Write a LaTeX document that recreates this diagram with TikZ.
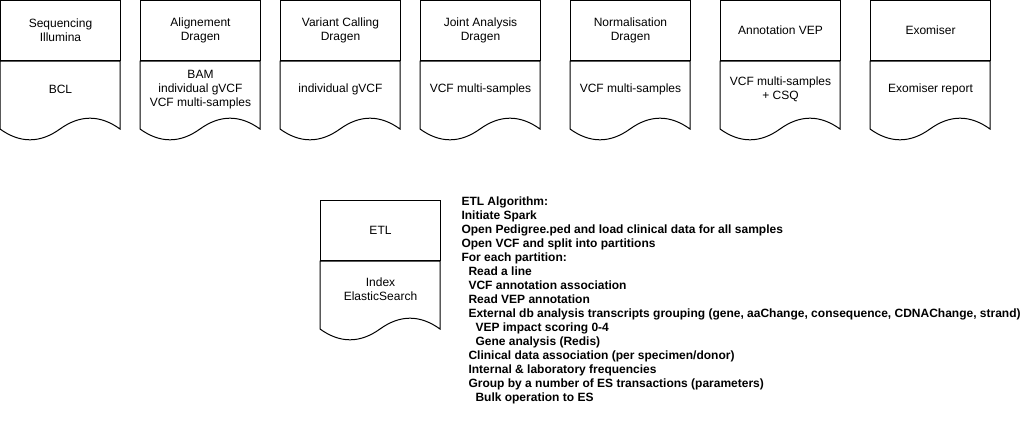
\documentclass[tikz,border=0pt]{standalone}
\usepackage{fontspec}
\setmainfont{Liberation Sans}
\usetikzlibrary{positioning}

\newcommand{\ind}{\hspace*{7pt}}

\begin{document}
\begin{tikzpicture}[x=1pt,y=1pt,line width=1pt,
    every node/.style={font=\fontsize{12}{14}\selectfont},
    head/.style={rectangle,draw,minimum width=120pt,minimum height=60pt,inner sep=0pt,align=center},
    body/.style={align=center,inner sep=0pt},
    algo/.style={align=left,inner sep=0pt,anchor=north west,font=\bfseries\fontsize{12}{14}\selectfont},
    docwave/.pic={\draw (0,0) -- (120,0) -- (120,-68) .. controls (100,-53.6) and (80,-53.6) .. (60,-68)
        .. controls (40,-82.4) and (20,-82.4) .. (0,-68) -- cycle;}]
   \useasboundingbox (0,0) rectangle (1031,-431);

   % pipeline stages
   \node[head] (seq) at (60.5,-30.5) {Sequencing\\Illumina};
   \pic at (seq.south west) {docwave};
   \node[body] (seq out) at (60.5,-89.5) {BCL};

   \node[head] (align) at (200.5,-30.5) {Alignement\\Dragen};
   \pic at (align.south west) {docwave};
   \node[body] (align out) at (200.5,-89.5) {BAM\\individual gVCF\\VCF multi-samples};

   \node[head] (call) at (340.5,-30.5) {Variant Calling\\Dragen};
   \pic at (call.south west) {docwave};
   \node[body] (call out) at (340.5,-89.5) {individual gVCF};

   \node[head] (joint) at (480.5,-30.5) {Joint Analysis\\Dragen};
   \pic at (joint.south west) {docwave};
   \node[body] (joint out) at (480.5,-89.5) {VCF multi-samples};

   \node[head] (norm) at (630.5,-30.5) {Normalisation\\Dragen};
   \pic at (norm.south west) {docwave};
   \node[body] (norm out) at (630.5,-89.5) {VCF multi-samples};

   \node[head] (vep) at (780.5,-30.5) {Annotation VEP};
   \pic at (vep.south west) {docwave};
   \node[body] (vep out) at (780.5,-89.5) {VCF multi-samples\\+ CSQ};

   \node[head] (exo) at (930.5,-30.5) {Exomiser};
   \pic at (exo.south west) {docwave};
   \node[body] (exo out) at (930.5,-89.5) {Exomiser report};

   % ETL
   \node[head] (etl) at (380.5,-230.5) {ETL};
   \pic at (etl.south west) {docwave};
   \node[body] (etl out) at (380.5,-289.5) {Index\\ElasticSearch};

   \node[algo] (algo) at (461,-196.7) {ETL Algorithm:\\
     Initiate Spark\\
     Open Pedigree.ped and load clinical data for all samples\\
     Open VCF and split into partitions\\
     For each partition:\\
     \ind Read a line\\
     \ind VCF annotation association\\
     \ind Read VEP annotation\\
     \ind External db analysis transcripts grouping (gene, aaChange, consequence, CDNAChange, strand)\\
     \ind\ind VEP impact scoring 0-4\\
     \ind\ind Gene analysis (Redis)\\
     \ind Clinical data association (per specimen/donor)\\
     \ind Internal \& laboratory frequencies\\
     \ind Group by a number of ES transactions (parameters)\\
     \ind\ind Bulk operation to ES};
\end{tikzpicture}
\end{document}
